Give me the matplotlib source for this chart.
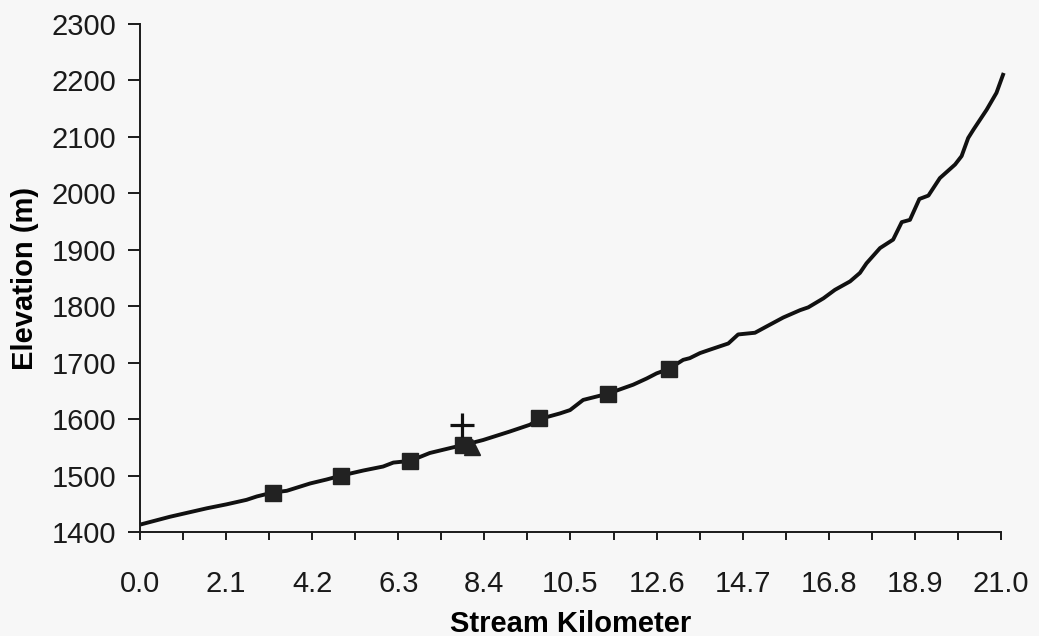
import matplotlib.pyplot as plt
import numpy as np

plt.rcParams['font.family'] = ['Liberation Sans', 'DejaVu Sans']

# stream profile
km = [0.05, 0.73, 1.63, 2.11, 2.60, 2.85, 3.24, 3.58, 4.15, 4.55, 4.91, 5.45,
      5.93, 6.18, 6.59, 7.07, 7.64, 7.89, 8.37, 9.02, 9.51, 9.74, 10.24, 10.49,
      10.81, 11.41, 12.03, 12.36, 12.60, 12.90, 13.25, 13.41, 13.66, 13.90,
      14.35, 14.59, 15.00, 15.28, 15.69, 16.10, 16.30, 16.67, 16.95, 17.32,
      17.56, 17.72, 18.05, 18.37, 18.58, 18.78, 19.01, 19.23, 19.51, 19.88,
      20.04, 20.20, 20.33, 20.65, 20.89, 21.05]
elev = [1414, 1427, 1442, 1449, 1457, 1463, 1470, 1473, 1486, 1493, 1500, 1509,
        1516, 1523, 1526, 1540, 1550, 1554, 1563, 1578, 1590, 1600, 1610, 1616,
        1634, 1645, 1661, 1672, 1681, 1689, 1705, 1708, 1717, 1723,
        1734, 1750, 1753, 1764, 1780, 1793, 1798, 1814, 1829, 1844,
        1859, 1876, 1903, 1918, 1949, 1953, 1990, 1996, 2027, 2051,
        2066, 2098, 2113, 2148, 2178, 2210]

site_km = [3.24, 4.91, 6.59, 7.89, 9.74, 11.41, 12.90]
site_elev = [1470, 1500, 1526, 1554, 1602, 1645, 1689]
tri_km, tri_elev = [8.09], [1551]
plus_km, plus_elev = [7.85], [1590]

ticks = np.arange(0, 21.01, 1.05)
labels = ['%.1f' % t if i % 2 == 0 else '' for i, t in enumerate(ticks)]

fig = plt.figure(figsize=(10.39, 6.36), dpi=100, facecolor='#f7f7f7')
ax = fig.add_axes([0.1347, 0.1635, 0.8287, 0.7988])
ax.set_facecolor('#f7f7f7')

ax.plot(km, elev, color='#111111', lw=2.8, clip_on=False, zorder=2,
        solid_joinstyle='round')
ax.plot(site_km, site_elev, 's', color='#222222', ms=12, zorder=3)
ax.plot(tri_km, tri_elev, '^', color='#222222', ms=11, zorder=3)
ax.plot(plus_km, plus_elev, '+', color='#111111', ms=17, mew=2.3, zorder=3)

ax.set_xlim(0, 21)
ax.set_ylim(1400, 2300)
ax.set_xticks(ticks)
ax.set_xticklabels(labels)
ax.set_yticks(range(1400, 2301, 100))

for s in ['top', 'right']:
    ax.spines[s].set_visible(False)
for s in ['left', 'bottom']:
    ax.spines[s].set_linewidth(1.4)
    ax.spines[s].set_color('#1a1a1a')

ax.tick_params(axis='x', length=6, width=1.4, pad=21, labelsize=21, colors='#1a1a1a')
ax.tick_params(axis='y', length=9, width=1.4, pad=8, labelsize=21, colors='#1a1a1a')

ax.set_xlabel('Stream Kilometer', fontsize=21, fontweight='bold', labelpad=9)
ax.set_ylabel('Elevation (m)', fontsize=21, fontweight='bold', labelpad=9)

fig.savefig('out.png', dpi=100, facecolor=fig.get_facecolor())
